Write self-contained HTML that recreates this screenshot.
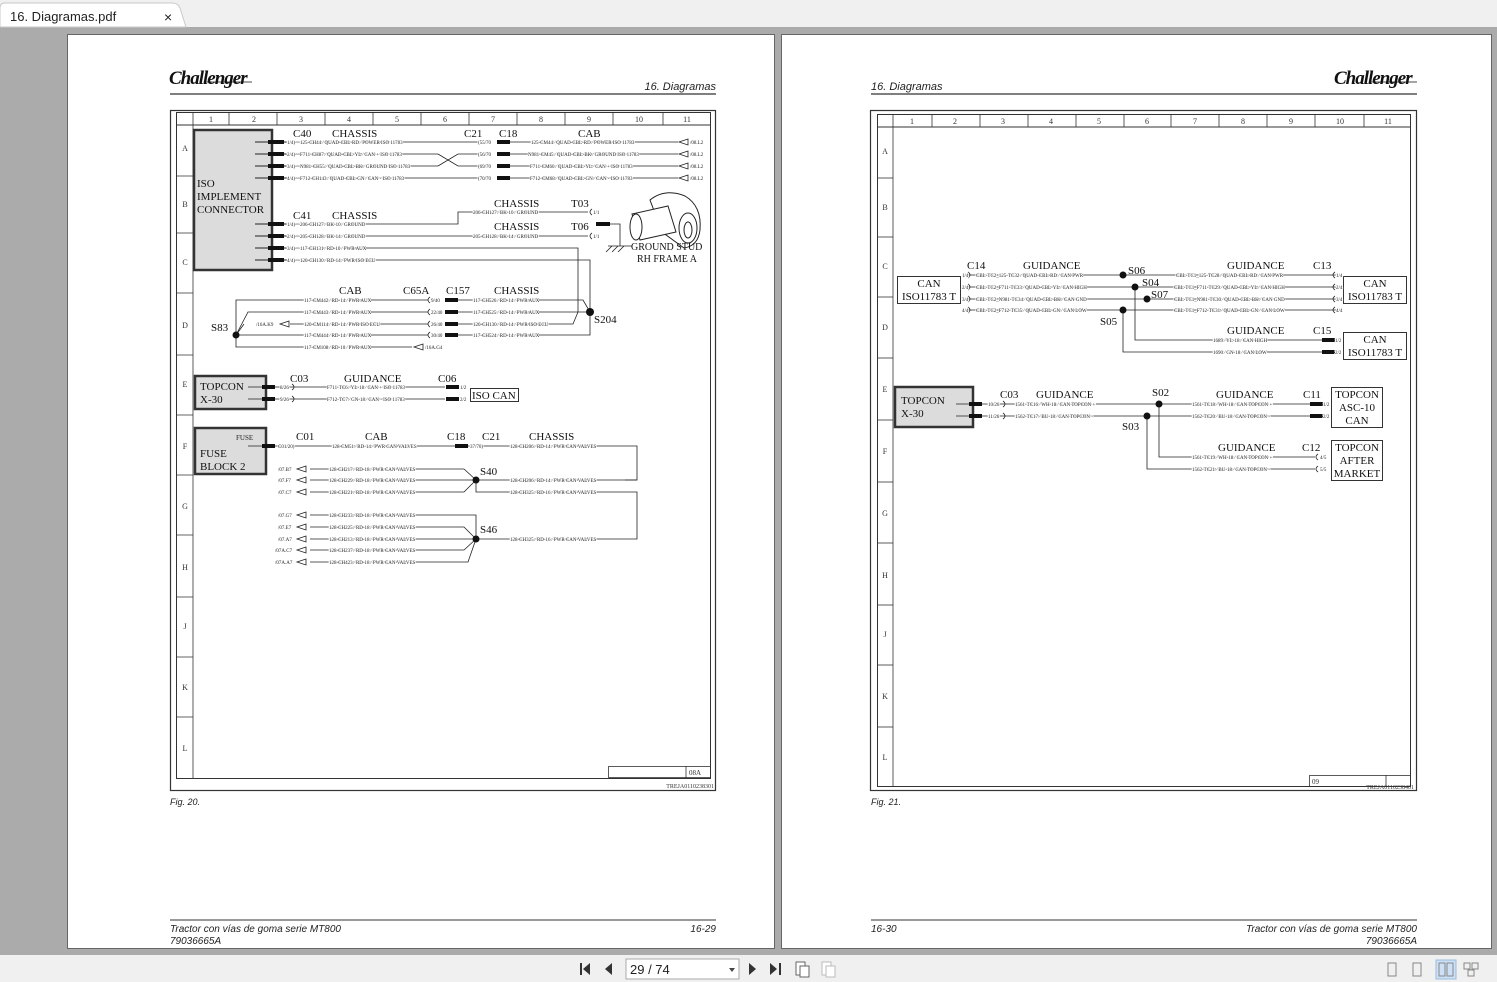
<!DOCTYPE html>
<html><head><meta charset="utf-8"><style>
html,body{margin:0;padding:0;}
body{width:1497px;height:982px;overflow:hidden;background:#ababab;position:relative;font-family:"Liberation Sans",sans-serif;}
svg text{font-family:"Liberation Serif",serif;}
.t{font-size:5px;fill:#222;stroke:#fff;stroke-width:1.6px;paint-order:stroke;}
.l{font-size:11px;fill:#111;}
.h{font-size:8px;fill:#333;}
</style></head><body>
<svg width="1497" height="982" viewBox="0 0 1497 982" xmlns="http://www.w3.org/2000/svg" style="position:absolute;left:0;top:0">
<!-- tab bar -->
<rect x="0" y="0" width="1497" height="27" fill="#f0f0f0"/>
<path d="M0 27 L0 8 Q0 3 5 3 L172 3 Q178 3 180 8 L186 27 Z" fill="#fff" stroke="#c8c8c8"/>
<text x="10" y="21" style="font-family:'Liberation Sans',sans-serif;font-size:13px;fill:#222">16. Diagramas.pdf</text>
<text x="164" y="22" style="font-family:'Liberation Sans',sans-serif;font-size:14px;fill:#222">×</text>
<!-- bottom toolbar -->
<rect x="0" y="955" width="1497" height="27" fill="#f0f0f0"/>
<g fill="#333">
<rect x="580" y="963" width="2" height="12"/><path d="M590 963 L583 969 L590 975Z"/>
<path d="M612 963 L605 969 L612 975Z"/>
<path d="M749 963 L756 969 L749 975Z"/>
<path d="M770 963 L777 969 L770 975Z"/><rect x="779" y="963" width="2" height="12"/>
</g>
<rect x="626" y="959" width="113" height="20" fill="#fff" stroke="#aaa"/>
<text x="630" y="974" style="font-family:'Liberation Sans',sans-serif;font-size:13px;fill:#222">29 / 74</text>
<path d="M729 968 L735 968 L732 972Z" fill="#444"/>
<rect x="796" y="962" width="9" height="13" fill="#fff" stroke="#666"/><rect x="800" y="966" width="9" height="11" fill="#fff" stroke="#666"/>
<rect x="822" y="962" width="9" height="13" fill="#fff" stroke="#bbb"/><rect x="826" y="966" width="9" height="11" fill="#fff" stroke="#bbb"/>
<g fill="none" stroke="#888">
<rect x="1388" y="963" width="8" height="13"/><rect x="1413" y="963" width="8" height="13"/>
<rect x="1436" y="960" width="20" height="19" fill="#cde0f5" stroke="#9bbde0"/>
<rect x="1439" y="963" width="6" height="13"/><rect x="1447" y="963" width="6" height="13"/>
<rect x="1464" y="963" width="6" height="6"/><rect x="1472" y="963" width="6" height="6"/><rect x="1468" y="970" width="6" height="6"/>
</g>

<!-- pages -->
<rect x="67.5" y="34.5" width="707" height="914" fill="#fff" stroke="#666"/>
<rect x="781.5" y="34.5" width="710" height="914" fill="#fff" stroke="#666"/>

<!-- ===== LEFT PAGE ===== -->
<text x="169" y="84" style="font-family:'Liberation Serif',serif;font-style:italic;font-weight:bold;font-size:19px;fill:#111;letter-spacing:-1px">Challenger</text>
<line x1="205" y1="82" x2="252" y2="82" stroke="#111" stroke-width="0.8"/>
<text x="716" y="90" text-anchor="end" style="font-family:'Liberation Sans',sans-serif;font-style:italic;font-size:11px;fill:#222">16. Diagramas</text>
<line x1="170" y1="94" x2="716" y2="94" stroke="#333" stroke-width="1.2"/>
<rect x="170.5" y="110.5" width="545" height="680" fill="none" stroke="#333" stroke-width="1.2"/>
<rect x="176.5" y="112.5" width="534" height="666" fill="none" stroke="#333" stroke-width="1"/>
<line x1="176" y1="125" x2="710" y2="125" stroke="#333"/>
<g stroke="#333" stroke-width="0.8">
<line x1="193" y1="112" x2="193" y2="778"/>
<line x1="229" y1="112" x2="229" y2="125"/><line x1="277" y1="112" x2="277" y2="125"/><line x1="325" y1="112" x2="325" y2="125"/><line x1="373" y1="112" x2="373" y2="125"/><line x1="421" y1="112" x2="421" y2="125"/><line x1="469" y1="112" x2="469" y2="125"/><line x1="517" y1="112" x2="517" y2="125"/><line x1="565" y1="112" x2="565" y2="125"/><line x1="613" y1="112" x2="613" y2="125"/><line x1="663" y1="112" x2="663" y2="125"/>
<line x1="176" y1="176" x2="193" y2="176"/><line x1="176" y1="233" x2="193" y2="233"/><line x1="176" y1="293" x2="193" y2="293"/><line x1="176" y1="355" x2="193" y2="355"/><line x1="176" y1="415" x2="193" y2="415"/><line x1="176" y1="475" x2="193" y2="475"/><line x1="176" y1="535" x2="193" y2="535"/><line x1="176" y1="597" x2="193" y2="597"/><line x1="176" y1="657" x2="193" y2="657"/><line x1="176" y1="717" x2="193" y2="717"/>
</g>
<g class="h" text-anchor="middle" style="font-size:8px;fill:#333">
<text x="211" y="122">1</text><text x="254" y="122">2</text><text x="301" y="122">3</text><text x="349" y="122">4</text><text x="397" y="122">5</text><text x="445" y="122">6</text><text x="493" y="122">7</text><text x="541" y="122">8</text><text x="589" y="122">9</text><text x="639" y="122">10</text><text x="687" y="122">11</text>
<text x="185" y="151">A</text><text x="185" y="207">B</text><text x="185" y="265">C</text><text x="185" y="328">D</text><text x="185" y="387">E</text><text x="185" y="449">F</text><text x="185" y="509">G</text><text x="185" y="570">H</text><text x="185" y="629">J</text><text x="185" y="690">K</text><text x="185" y="751">L</text>
</g>
<rect x="608.5" y="766.5" width="102" height="11" fill="none" stroke="#333" stroke-width="0.8"/>
<line x1="686" y1="766" x2="686" y2="778" stroke="#333" stroke-width="0.8"/>
<text x="689" y="775" style="font-size:7px;fill:#333">08A</text>
<text x="714" y="788" text-anchor="end" style="font-size:6px;fill:#333">TREJA0110238301</text>

<!-- ISO implement connector -->
<rect x="194" y="130" width="78" height="140" fill="#dcdcdc" stroke="#333" stroke-width="2.5"/>
<text class="l" x="197" y="187">ISO</text><text class="l" x="197" y="200">IMPLEMENT</text><text class="l" x="197" y="213">CONNECTOR</text>
<g stroke="#222" stroke-width="1">
<line x1="255" y1="142" x2="287" y2="142"/><line x1="255" y1="154" x2="287" y2="154"/><line x1="255" y1="166" x2="287" y2="166"/><line x1="255" y1="178" x2="287" y2="178"/>
<line x1="255" y1="224" x2="287" y2="224"/><line x1="255" y1="236" x2="287" y2="236"/><line x1="255" y1="248" x2="287" y2="248"/><line x1="255" y1="260" x2="287" y2="260"/>
</g>
<g fill="#111">
<rect x="268" y="140" width="16" height="4"/><rect x="268" y="152" width="16" height="4"/><rect x="268" y="164" width="16" height="4"/><rect x="268" y="176" width="16" height="4"/>
<rect x="268" y="222" width="16" height="4"/><rect x="268" y="234" width="16" height="4"/><rect x="268" y="246" width="16" height="4"/><rect x="268" y="258" width="16" height="4"/>
</g>
<text class="l" x="293" y="137">C40</text><text class="l" x="332" y="137">CHASSIS</text><text class="l" x="464" y="137">C21</text><text class="l" x="499" y="137">C18</text><text class="l" x="578" y="137">CAB</text>
<g stroke="#222" stroke-width="0.8" fill="none">
<line x1="287" y1="142" x2="478" y2="142"/><line x1="287" y1="154" x2="438" y2="154"/><path d="M438 154 L458 166 L478 166"/><line x1="287" y1="166" x2="438" y2="166"/><path d="M438 166 L458 154 L478 154"/><line x1="287" y1="178" x2="478" y2="178"/>
<line x1="510" y1="142" x2="678" y2="142"/><line x1="510" y1="154" x2="678" y2="154"/><line x1="510" y1="166" x2="678" y2="166"/><line x1="510" y1="178" x2="678" y2="178"/>
<path d="M688 139 L679 142 L688 145Z M688 151 L679 154 L688 157Z M688 163 L679 166 L688 169Z M688 175 L679 178 L688 181Z"/>
</g>
<g fill="#111"><rect x="497" y="140" width="13" height="4"/><rect x="497" y="152" width="13" height="4"/><rect x="497" y="164" width="13" height="4"/><rect x="497" y="176" width="13" height="4"/></g>
<g class="t">
<text x="287" y="144">1/4)—125-CH44 ⁄ QUAD-CBL-RD ⁄ POWER ISO 11783</text>
<text x="287" y="156">2/4)—F711-CH87 ⁄ QUAD-CBL-YL ⁄ CAN + ISO 11783</text>
<text x="287" y="168">3/4)—N981-CH55 ⁄ QUAD-CBL-BK ⁄ GROUND ISO 11783</text>
<text x="287" y="180">4/4)—F712-CH143 ⁄ QUAD-CBL-GN ⁄ CAN - ISO 11783</text>
<text x="478" y="144">(55/70</text><text x="478" y="156">(56/70</text><text x="478" y="168">(69/70</text><text x="478" y="180">(70/70</text>
<text x="531" y="144">125-CM44 ⁄ QUAD-CBL-RD ⁄ POWER ISO 11783</text>
<text x="528" y="156">N981-CM45 ⁄ QUAD-CBL-BK ⁄ GROUND ISO 11783</text>
<text x="530" y="168">F711-CM60 ⁄ QUAD-CBL-YL ⁄ CAN + ISO 11783</text>
<text x="530" y="180">F712-CM68 ⁄ QUAD-CBL-GN ⁄ CAN - ISO 11783</text>
<text x="690" y="144">/08.L2</text><text x="690" y="156">/08.L2</text><text x="690" y="168">/08.L2</text><text x="690" y="180">/08.L2</text>
</g>
<!-- C41 -->
<text class="l" x="293" y="219">C41</text><text class="l" x="332" y="219">CHASSIS</text>
<text class="l" x="494" y="207">CHASSIS</text><text class="l" x="571" y="207">T03</text>
<text class="l" x="494" y="230">CHASSIS</text><text class="l" x="571" y="230">T06</text>
<g stroke="#222" stroke-width="0.8" fill="none">
<path d="M287 224 L458 224 L458 212 L588 212"/>
<line x1="287" y1="236" x2="588" y2="236"/>
<path d="M287 248 L578 248 L578 312"/>
<path d="M287 260 L590 260 L590 312"/>
<path d="M592 209 Q588 212 592 215 M592 233 Q588 236 592 239"/>
<path d="M610 224 L620 224 L620 246 M608 246 L632 246 M612 246 L606 252 M618 246 L612 252 M624 246 L618 252"/>
</g>
<rect x="596" y="222" width="14" height="4" fill="#111"/>
<g class="t">
<text x="287" y="226">1/4)—206-CH127 ⁄ BK-10 ⁄ GROUND</text>
<text x="287" y="238">2/4)—205-CH128 ⁄ BK-14 ⁄ GROUND</text>
<text x="287" y="250">3/4)—117-CH131 ⁄ RD-10 ⁄ PWR AUX</text>
<text x="287" y="262">4/4)—120-CH130 ⁄ RD-14 ⁄ PWR ISO ECU</text>
<text x="473" y="214">206-CH127 ⁄ BK-10 ⁄ GROUND</text>
<text x="473" y="238">205-CH128 ⁄ BK-14 ⁄ GROUND</text>
<text x="593" y="214">1/1</text><text x="593" y="238">1/1</text>
</g>
<!-- ground stud drawing -->
<g fill="#fff" stroke="#222" stroke-width="1">
<path d="M650 200 Q665 188 685 196 Q702 206 700 230 Q698 246 684 248 L662 232 Z"/>
<ellipse cx="688" cy="228" rx="9" ry="15"/>
<path d="M632 214 L668 206 L676 232 L640 240 Z"/>
<ellipse cx="636" cy="227" rx="6" ry="13"/>
<ellipse cx="688" cy="230" rx="4" ry="8"/>
</g>
<text class="l" x="631" y="250" style="font-size:10px">GROUND STUD</text>
<text class="l" x="637" y="262" style="font-size:10px">RH FRAME A</text>

<!-- D row -->
<text class="l" x="339" y="294">CAB</text><text class="l" x="403" y="294">C65A</text><text class="l" x="446" y="294">C157</text><text class="l" x="494" y="294">CHASSIS</text>
<text class="l" x="211" y="331">S83</text><text class="l" x="594" y="323">S204</text>
<g stroke="#222" stroke-width="0.8" fill="none">
<path d="M236 335 L236 300 L428 300"/>
<path d="M236 335 L248 312 L428 312"/>
<line x1="290" y1="324" x2="428" y2="324"/>
<line x1="236" y1="335" x2="428" y2="335"/>
<path d="M236 335 L236 347 L412 347"/>
<path d="M236 335 L244 324"/>
<path d="M458 300 L583 300 L590 312 M458 312 L590 312 M458 324 L573 324 L578 312 M458 335 L590 335 L590 312"/>
<path d="M289 321 L280 324 L289 327 Z M423 344 L414 347 L423 350Z"/>
<path d="M430 297 Q426 300 430 303 M430 309 Q426 312 430 315 M430 321 Q426 324 430 327 M430 332 Q426 335 430 338"/>
</g>
<circle cx="236" cy="335" r="3.5" fill="#111"/><circle cx="590" cy="312" r="4" fill="#111"/>
<g fill="#111"><rect x="445" y="298" width="13" height="4"/><rect x="445" y="310" width="13" height="4"/><rect x="445" y="322" width="13" height="4"/><rect x="445" y="333" width="13" height="4"/></g>
<g class="t">
<text x="304" y="302">117-CM442 ⁄ RD-14 ⁄ PWR AUX</text>
<text x="304" y="314">117-CM443 ⁄ RD-14 ⁄ PWR AUX</text>
<text x="304" y="326">120-CM114 ⁄ RD-14 ⁄ PWR ISO ECU</text>
<text x="304" y="337">117-CM444 ⁄ RD-14 ⁄ PWR AUX</text>
<text x="304" y="349">117-CM108 ⁄ RD-10 ⁄ PWR AUX</text>
<text x="256" y="326">/16A.K9</text><text x="425" y="349">/16A.G4</text>
<text x="431" y="302">9/40</text><text x="431" y="314">22/40</text><text x="431" y="326">26/40</text><text x="431" y="337">30/40</text>
<text x="473" y="302">117-CH526 ⁄ RD-14 ⁄ PWR AUX</text>
<text x="473" y="314">117-CH525 ⁄ RD-14 ⁄ PWR AUX</text>
<text x="473" y="326">120-CH130 ⁄ RD-14 ⁄ PWR ISO ECU</text>
<text x="473" y="337">117-CH524 ⁄ RD-14 ⁄ PWR AUX</text>
</g>

<!-- E row topcon -->
<rect x="195" y="376" width="71" height="33" fill="#dcdcdc" stroke="#333" stroke-width="2.5"/>
<text class="l" x="200" y="390">TOPCON</text><text class="l" x="200" y="403">X-30</text>
<text class="l" x="290" y="382">C03</text><text class="l" x="344" y="382">GUIDANCE</text><text class="l" x="438" y="382">C06</text>
<g stroke="#222" stroke-width="0.8" fill="none">
<line x1="248" y1="387" x2="445" y2="387"/><line x1="248" y1="399" x2="445" y2="399"/>
<path d="M292 384 Q296 387 292 390 M292 396 Q296 399 292 402"/>
</g>
<g fill="#111"><rect x="262" y="385" width="13" height="4"/><rect x="262" y="397" width="13" height="4"/><rect x="446" y="385" width="13" height="4"/><rect x="446" y="397" width="13" height="4"/></g>
<rect x="470.5" y="388.5" width="48" height="13" fill="#fff" stroke="#333"/>
<text class="l" x="472" y="399">ISO CAN</text>
<g class="t">
<text x="280" y="389">8/26</text><text x="280" y="401">9/26</text>
<text x="327" y="389">F711-TC6 ⁄ YL-18 ⁄ CAN + ISO 11783</text>
<text x="327" y="401">F712-TC7 ⁄ GN-18 ⁄ CAN - ISO 11783</text>
<text x="460" y="389">1/2</text><text x="460" y="401">2/2</text>
</g>

<!-- F fuse block -->
<rect x="195" y="428" width="71" height="46" fill="#dcdcdc" stroke="#333" stroke-width="2.5"/>
<text x="236" y="440" style="font-size:7px;fill:#222">FUSE</text>
<text class="l" x="200" y="457">FUSE</text><text class="l" x="200" y="470">BLOCK 2</text>
<text class="l" x="296" y="440">C01</text><text class="l" x="365" y="440">CAB</text><text class="l" x="447" y="440">C18</text><text class="l" x="482" y="440">C21</text><text class="l" x="529" y="440">CHASSIS</text>
<text class="l" x="480" y="475">S40</text><text class="l" x="480" y="533">S46</text>
<g stroke="#222" stroke-width="0.8" fill="none">
<line x1="248" y1="446" x2="455" y2="446"/><path d="M468 446 L637 446 L637 480 L625 480"/>
<path d="M310 469 L464 469 L476 480 M310 480 L637 480 M310 492 L464 492 L476 480 M476 480 L476 492 L637 492 L637 539 L625 539"/>
<path d="M310 515 L476 515 L476 539 M310 527 L464 527 L476 539 M310 539 L625 539 M310 550 L464 550 L476 539 M310 562 L468 562 L476 539"/>
<path d="M306 466 L297 469 L306 472Z M306 477 L297 480 L306 483Z M306 489 L297 492 L306 495Z M306 512 L297 515 L306 518Z M306 524 L297 527 L306 530Z M306 536 L297 539 L306 542Z M306 547 L297 550 L306 553Z M306 559 L297 562 L306 565Z"/>
</g>
<rect x="262" y="444" width="13" height="4" fill="#111"/><rect x="455" y="444" width="13" height="4" fill="#111"/>
<circle cx="476" cy="480" r="3.5" fill="#111"/><circle cx="476" cy="539" r="3.5" fill="#111"/>
<g class="t">
<text x="278" y="448">C01/20)</text>
<text x="332" y="448">128-CM51 ⁄ RD-14 ⁄ PWR CAN VALVES</text>
<text x="470" y="448">37/70)</text>
<text x="510" y="448">128-CH206 ⁄ RD-14 ⁄ PWR CAN VALVES</text>
<text x="278" y="471">/07.B7</text><text x="278" y="482">/07.F7</text><text x="278" y="494">/07.C7</text>
<text x="278" y="517">/07.G7</text><text x="278" y="529">/07.E7</text><text x="278" y="541">/07.A7</text><text x="275" y="552">/07A.C7</text><text x="275" y="564">/07A.A7</text>
<text x="329" y="471">128-CH217 ⁄ RD-18 ⁄ PWR CAN VALVES</text>
<text x="329" y="482">128-CH229 ⁄ RD-18 ⁄ PWR CAN VALVES</text>
<text x="329" y="494">128-CH221 ⁄ RD-18 ⁄ PWR CAN VALVES</text>
<text x="329" y="517">128-CH233 ⁄ RD-18 ⁄ PWR CAN VALVES</text>
<text x="329" y="529">128-CH225 ⁄ RD-18 ⁄ PWR CAN VALVES</text>
<text x="329" y="541">128-CH213 ⁄ RD-18 ⁄ PWR CAN VALVES</text>
<text x="329" y="552">128-CH237 ⁄ RD-18 ⁄ PWR CAN VALVES</text>
<text x="329" y="564">128-CH423 ⁄ RD-18 ⁄ PWR CAN VALVES</text>
<text x="510" y="482">128-CH206 ⁄ RD-14 ⁄ PWR CAN VALVES</text>
<text x="510" y="494">128-CH325 ⁄ RD-16 ⁄ PWR CAN VALVES</text>
<text x="510" y="541">128-CH325 ⁄ RD-16 ⁄ PWR CAN VALVES</text>
</g>

<text x="170" y="805" style="font-family:'Liberation Sans',sans-serif;font-style:italic;font-size:9px;fill:#222">Fig. 20.</text>
<line x1="170" y1="920" x2="716" y2="920" stroke="#333" stroke-width="1"/>
<text x="170" y="932" style="font-family:'Liberation Sans',sans-serif;font-style:italic;font-size:10px;fill:#222">Tractor con vías de goma serie MT800</text>
<text x="170" y="944" style="font-family:'Liberation Sans',sans-serif;font-style:italic;font-size:10px;fill:#222">79036665A</text>
<text x="716" y="932" text-anchor="end" style="font-family:'Liberation Sans',sans-serif;font-style:italic;font-size:10px;fill:#222">16-29</text>

<!-- ===== RIGHT PAGE ===== -->
<text x="1334" y="84" style="font-family:'Liberation Serif',serif;font-style:italic;font-weight:bold;font-size:19px;fill:#111;letter-spacing:-1px">Challenger</text>
<line x1="1370" y1="82" x2="1417" y2="82" stroke="#111" stroke-width="0.8"/>
<text x="871" y="90" style="font-family:'Liberation Sans',sans-serif;font-style:italic;font-size:11px;fill:#222">16. Diagramas</text>
<line x1="871" y1="94" x2="1417" y2="94" stroke="#333" stroke-width="1.2"/>
<rect x="870.5" y="110.5" width="546" height="680" fill="none" stroke="#333" stroke-width="1.2"/>
<rect x="877.5" y="114.5" width="533" height="672" fill="none" stroke="#333" stroke-width="1"/>
<line x1="877" y1="127" x2="1410" y2="127" stroke="#333"/>
<g stroke="#333" stroke-width="0.8">
<line x1="893" y1="114" x2="893" y2="787"/>
<line x1="932" y1="114" x2="932" y2="127"/><line x1="980" y1="114" x2="980" y2="127"/><line x1="1028" y1="114" x2="1028" y2="127"/><line x1="1076" y1="114" x2="1076" y2="127"/><line x1="1124" y1="114" x2="1124" y2="127"/><line x1="1171" y1="114" x2="1171" y2="127"/><line x1="1219" y1="114" x2="1219" y2="127"/><line x1="1267" y1="114" x2="1267" y2="127"/><line x1="1315" y1="114" x2="1315" y2="127"/><line x1="1364" y1="114" x2="1364" y2="127"/>
<line x1="877" y1="178" x2="893" y2="178"/><line x1="877" y1="237" x2="893" y2="237"/><line x1="877" y1="297" x2="893" y2="297"/><line x1="877" y1="358" x2="893" y2="358"/><line x1="877" y1="420" x2="893" y2="420"/><line x1="877" y1="482" x2="893" y2="482"/><line x1="877" y1="543" x2="893" y2="543"/><line x1="877" y1="605" x2="893" y2="605"/><line x1="877" y1="665" x2="893" y2="665"/><line x1="877" y1="727" x2="893" y2="727"/>
</g>
<g text-anchor="middle" style="font-size:8px;fill:#333">
<text x="912" y="124">1</text><text x="955" y="124">2</text><text x="1003" y="124">3</text><text x="1051" y="124">4</text><text x="1099" y="124">5</text><text x="1147" y="124">6</text><text x="1195" y="124">7</text><text x="1243" y="124">8</text><text x="1291" y="124">9</text><text x="1340" y="124">10</text><text x="1388" y="124">11</text>
<text x="885" y="154">A</text><text x="885" y="210">B</text><text x="885" y="269">C</text><text x="885" y="330">D</text><text x="885" y="392">E</text><text x="885" y="454">F</text><text x="885" y="516">G</text><text x="885" y="578">H</text><text x="885" y="637">J</text><text x="885" y="699">K</text><text x="885" y="760">L</text>
</g>
<rect x="1309.5" y="775.5" width="101" height="11" fill="none" stroke="#333" stroke-width="0.8"/>
<line x1="1386" y1="775" x2="1386" y2="787" stroke="#333" stroke-width="0.8"/>
<text x="1312" y="784" style="font-size:7px;fill:#333">09</text>
<text x="1414" y="789" text-anchor="end" style="font-size:6px;fill:#333">TREJA0110238401</text>

<!-- CAN section -->
<rect x="897.5" y="276.5" width="63" height="27" fill="#fff" stroke="#333"/>
<text class="l" x="929" y="287" text-anchor="middle">CAN</text><text class="l" x="929" y="300" text-anchor="middle">ISO11783 T</text>
<rect x="1343.5" y="276.5" width="63" height="27" fill="#fff" stroke="#333"/>
<text class="l" x="1375" y="287" text-anchor="middle">CAN</text><text class="l" x="1375" y="300" text-anchor="middle">ISO11783 T</text>
<rect x="1343.5" y="332.5" width="63" height="27" fill="#fff" stroke="#333"/>
<text class="l" x="1375" y="343" text-anchor="middle">CAN</text><text class="l" x="1375" y="356" text-anchor="middle">ISO11783 T</text>
<text class="l" x="967" y="269">C14</text><text class="l" x="1023" y="269">GUIDANCE</text><text class="l" x="1227" y="269">GUIDANCE</text><text class="l" x="1313" y="269">C13</text>
<text class="l" x="1128" y="274">S06</text><text class="l" x="1142" y="286">S04</text><text class="l" x="1151" y="298">S07</text><text class="l" x="1100" y="325">S05</text>
<text class="l" x="1227" y="334">GUIDANCE</text><text class="l" x="1313" y="334">C15</text>
<g stroke="#222" stroke-width="0.8" fill="none">
<line x1="962" y1="275" x2="1338" y2="275"/><line x1="962" y1="287" x2="1338" y2="287"/><line x1="962" y1="299" x2="1338" y2="299"/><line x1="962" y1="310" x2="1338" y2="310"/>
<path d="M1135 287 L1135 340 L1322 340 M1123 310 L1123 352 L1322 352"/>
<path d="M1335 272 Q1331 275 1335 278 M1335 284 Q1331 287 1335 290 M1335 296 Q1331 299 1335 302 M1335 307 Q1331 310 1335 313"/>
<path d="M968 272 Q972 275 968 278 M968 284 Q972 287 968 290 M968 296 Q972 299 968 302 M968 307 Q972 310 968 313"/>
</g>
<g fill="#111"><circle cx="1123" cy="275" r="3.5"/><circle cx="1135" cy="287" r="3.5"/><circle cx="1147" cy="299" r="3.5"/><circle cx="1123" cy="310" r="3.5"/>
<rect x="1322" y="338" width="13" height="4"/><rect x="1322" y="350" width="13" height="4"/></g>
<g class="t">
<text x="962" y="277">1/4</text><text x="962" y="289">2/4</text><text x="962" y="301">3/4</text><text x="962" y="312">4/4</text>
<text x="976" y="277">CBL-TC2_125-TC32 ⁄ QUAD-CBL-RD ⁄ CAN PWR</text>
<text x="976" y="289">CBL-TC2_F711-TC33 ⁄ QUAD-CBL-YL ⁄ CAN HIGH</text>
<text x="976" y="301">CBL-TC2_N981-TC34 ⁄ QUAD-CBL-BK ⁄ CAN GND</text>
<text x="976" y="312">CBL-TC2_F712-TC35 ⁄ QUAD-CBL-GN ⁄ CAN LOW</text>
<text x="1176" y="277">CBL-TC1_125-TC28 ⁄ QUAD-CBL-RD ⁄ CAN PWR</text>
<text x="1174" y="289">CBL-TC1_F711-TC29 ⁄ QUAD-CBL-YL ⁄ CAN HIGH</text>
<text x="1174" y="301">CBL-TC1_N981-TC30 ⁄ QUAD-CBL-BK ⁄ CAN GND</text>
<text x="1174" y="312">CBL-TC1_F712-TC31 ⁄ QUAD-CBL-GN ⁄ CAN LOW</text>
<text x="1336" y="277">1/4</text><text x="1336" y="289">2/4</text><text x="1336" y="301">3/4</text><text x="1336" y="312">4/4</text>
<text x="1213" y="342">1689 ⁄ YL-18 ⁄ CAN HIGH</text><text x="1213" y="354">1690 ⁄ GN-18 ⁄ CAN LOW</text>
<text x="1335" y="342">1/2</text><text x="1335" y="354">2/2</text>
</g>

<!-- TOPCON section -->
<rect x="895" y="387" width="78" height="40" fill="#dcdcdc" stroke="#333" stroke-width="2.5"/>
<text class="l" x="901" y="404">TOPCON</text><text class="l" x="901" y="417">X-30</text>
<text class="l" x="1000" y="398">C03</text><text class="l" x="1036" y="398">GUIDANCE</text><text class="l" x="1152" y="396">S02</text><text class="l" x="1122" y="430">S03</text>
<text class="l" x="1216" y="398">GUIDANCE</text><text class="l" x="1303" y="398">C11</text>
<text class="l" x="1218" y="451">GUIDANCE</text><text class="l" x="1302" y="451">C12</text>
<rect x="1331.5" y="387.5" width="51" height="40" fill="#fff" stroke="#333"/>
<text class="l" x="1357" y="398" text-anchor="middle">TOPCON</text><text class="l" x="1357" y="411" text-anchor="middle">ASC-10</text><text class="l" x="1357" y="424" text-anchor="middle">CAN</text>
<rect x="1331.5" y="440.5" width="51" height="40" fill="#fff" stroke="#333"/>
<text class="l" x="1357" y="451" text-anchor="middle">TOPCON</text><text class="l" x="1357" y="464" text-anchor="middle">AFTER</text><text class="l" x="1357" y="477" text-anchor="middle">MARKET</text>
<g stroke="#222" stroke-width="0.8" fill="none">
<line x1="956" y1="404" x2="1310" y2="404"/><line x1="956" y1="416" x2="1310" y2="416"/>
<path d="M1159 404 L1159 457 L1315 457 M1147 416 L1147 469 L1315 469"/>
<path d="M1003 401 Q1007 404 1003 407 M1003 413 Q1007 416 1003 419"/>
<path d="M1318 454 Q1314 457 1318 460 M1318 466 Q1314 469 1318 472"/>
</g>
<g fill="#111"><rect x="969" y="402" width="13" height="4"/><rect x="969" y="414" width="13" height="4"/><circle cx="1159" cy="404" r="3.5"/><circle cx="1147" cy="416" r="3.5"/>
<rect x="1310" y="402" width="13" height="4"/><rect x="1310" y="414" width="13" height="4"/></g>
<g class="t">
<text x="988" y="406">10/26</text><text x="988" y="418">11/26</text>
<text x="1015" y="406">1561-TC16 ⁄ WH-18 ⁄ CAN TOPCON +</text>
<text x="1015" y="418">1562-TC17 ⁄ BU-18 ⁄ CAN TOPCON -</text>
<text x="1192" y="406">1561-TC18 ⁄ WH-18 ⁄ CAN TOPCON +</text>
<text x="1192" y="418">1562-TC20 ⁄ BU-18 ⁄ CAN TOPCON -</text>
<text x="1192" y="459">1561-TC19 ⁄ WH-18 ⁄ CAN TOPCON +</text>
<text x="1192" y="471">1562-TC21 ⁄ BU-18 ⁄ CAN TOPCON -</text>
<text x="1323" y="406">1/2</text><text x="1323" y="418">2/2</text><text x="1320" y="459">4/5</text><text x="1320" y="471">5/5</text>
</g>

<text x="871" y="805" style="font-family:'Liberation Sans',sans-serif;font-style:italic;font-size:9px;fill:#222">Fig. 21.</text>
<line x1="871" y1="920" x2="1417" y2="920" stroke="#333" stroke-width="1"/>
<text x="871" y="932" style="font-family:'Liberation Sans',sans-serif;font-style:italic;font-size:10px;fill:#222">16-30</text>
<text x="1417" y="932" text-anchor="end" style="font-family:'Liberation Sans',sans-serif;font-style:italic;font-size:10px;fill:#222">Tractor con vías de goma serie MT800</text>
<text x="1417" y="944" text-anchor="end" style="font-family:'Liberation Sans',sans-serif;font-style:italic;font-size:10px;fill:#222">79036665A</text>
</svg>
</body></html>
